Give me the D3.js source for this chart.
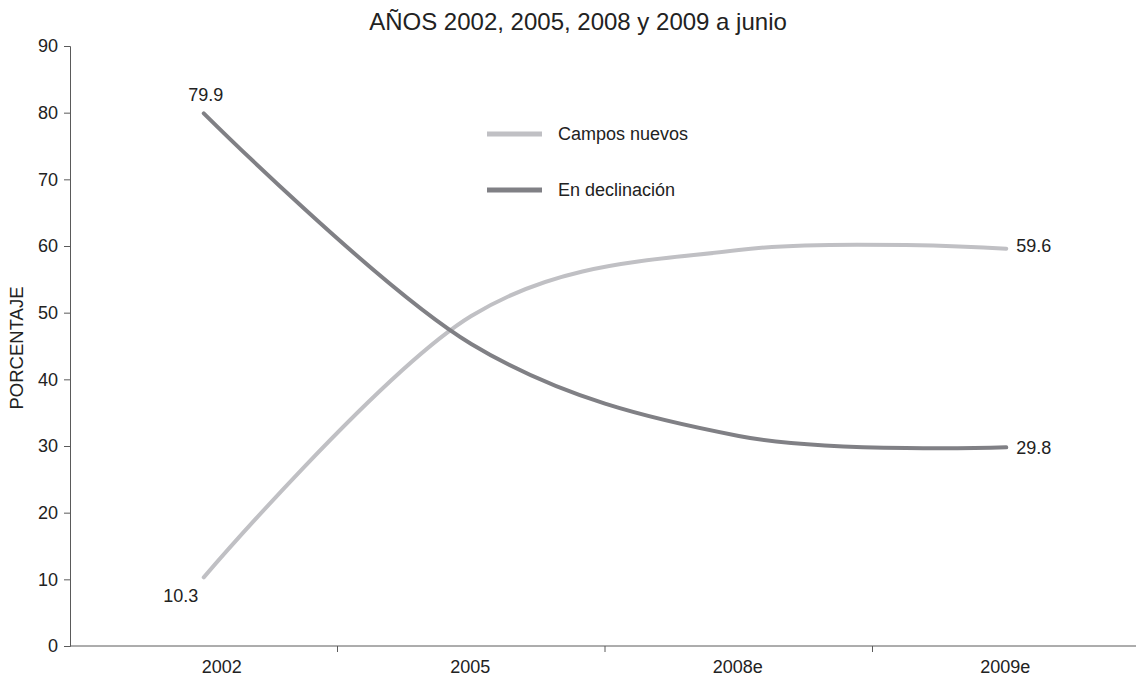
<!DOCTYPE html>
<html><head><meta charset="utf-8">
<script src="https://cdn.jsdelivr.net/npm/d3@7"></script>
<style>body{margin:0;background:#fff;font-family:"Liberation Sans",Arial,sans-serif;}</style>
</head><body><svg id="c" width="1136" height="677"></svg>
<script>
const categories = ["2002", "2005", "2008e", "2009e"];
const camposNuevos = [10.3, 49.5, 59.4, 59.6];
const enDeclinacion = [79.9, 45.3, 31.5, 29.8];
const yTicks = [0, 10, 20, 30, 40, 50, 60, 70, 80, 90];
const seriesNames = ["Campos nuevos", "En declinación"];
const title = "AÑOS 2002, 2005, 2008 y 2009 a junio";
const yLabel = "PORCENTAJE";

(function () {
const svg = d3.select("#c");
const mLeft = 70, mRight = 1140, mTop = 46, mBottom = 646;
const x = d3.scaleBand().domain(categories).range([mLeft, mRight]);
const y = d3.scaleLinear().domain([0, 90]).range([mBottom, mTop]);
const cx = d => x(d) + x.bandwidth() / 2;
const axisColor = "#5a5a5a", textColor = "#222";
const colors = ["#c0c0c4", "#808085"];
const fs = 18;

svg.append("text").attr("x", 578).attr("y", 30).attr("text-anchor", "middle")
  .attr("font-size", 24).attr("fill", textColor).text(title);

// y axis
const ya = svg.append("g").attr("transform", `translate(${mLeft},0)`)
  .call(d3.axisLeft(y).tickValues(yTicks).tickSize(6).tickPadding(6));
ya.selectAll("path,line").attr("stroke", axisColor);
ya.selectAll("text").attr("font-size", fs).attr("fill", textColor).attr("font-family", "Liberation Sans, Arial, sans-serif");

// x axis
const xa = svg.append("g").attr("transform", `translate(0,${mBottom})`)
  .call(d3.axisBottom(x).tickSize(0));
xa.select("path").remove();
xa.selectAll("text").attr("font-size", fs).attr("fill", textColor).attr("font-family", "Liberation Sans, Arial, sans-serif")
  .attr("dy", null).attr("y", 27).attr("dx", (d, i) => i === 0 ? 18 : -1);
svg.append("line").attr("x1", mLeft).attr("x2", mRight).attr("y1", mBottom).attr("y2", mBottom).attr("stroke", axisColor);
svg.selectAll(".xt").data(categories.slice(1)).enter().append("line")
  .attr("x1", d => x(d)).attr("x2", d => x(d)).attr("y1", mBottom).attr("y2", mBottom + 6).attr("stroke", axisColor);

svg.append("text").attr("transform", `translate(23,348) rotate(-90)`).attr("text-anchor", "middle")
  .attr("font-size", 18.5).attr("fill", textColor).text(yLabel);

const line = d3.line().x((d, i) => cx(categories[i])).y(d => y(d)).curve(d3.curveCardinal.tension(0));
[camposNuevos, enDeclinacion].forEach((s, k) => {
  svg.append("path").attr("d", line(s)).attr("fill", "none").attr("stroke", colors[k])
    .attr("stroke-width", 4).attr("stroke-linecap", "round");
});

// legend
seriesNames.forEach((n, k) => {
  const ly = 134 + k * 56;
  svg.append("line").attr("x1", 487).attr("x2", 542).attr("y1", ly).attr("y2", ly)
    .attr("stroke", colors[k]).attr("stroke-width", 5);
  svg.append("text").attr("x", 558).attr("y", ly + 5.5).attr("font-size", fs).attr("fill", textColor).text(n);
});

// data labels
const fmt = d3.format(".1f");
svg.append("text").attr("x", cx(categories[0]) + 2).attr("y", y(enDeclinacion[0]) - 12)
  .attr("text-anchor", "middle").attr("font-size", fs).attr("fill", textColor).text(fmt(enDeclinacion[0]));
svg.append("text").attr("x", cx(categories[0]) - 23).attr("y", y(camposNuevos[0]) + 25)
  .attr("text-anchor", "middle").attr("font-size", fs).attr("fill", textColor).text(fmt(camposNuevos[0]));
svg.append("text").attr("x", cx(categories[3]) + 10).attr("y", y(camposNuevos[3]) + 3)
  .attr("font-size", fs).attr("fill", textColor).text(fmt(camposNuevos[3]));
svg.append("text").attr("x", cx(categories[3]) + 10).attr("y", y(enDeclinacion[3]) + 7)
  .attr("font-size", fs).attr("fill", textColor).text(fmt(enDeclinacion[3]));
})();
</script></body></html>
